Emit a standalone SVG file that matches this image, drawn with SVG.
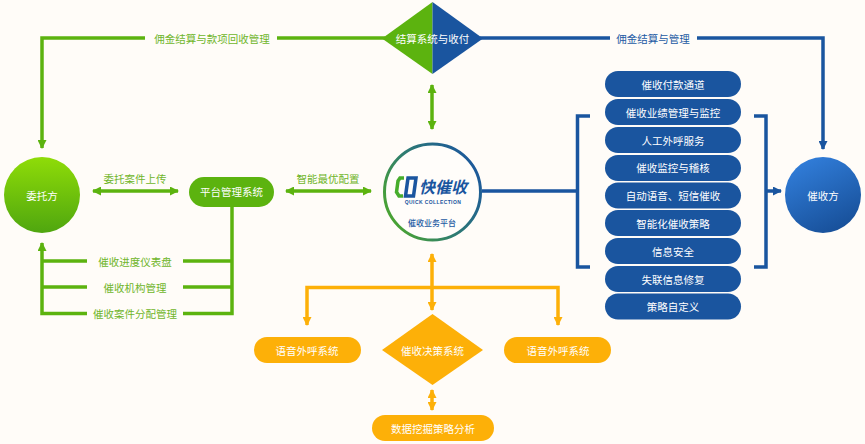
<svg xmlns="http://www.w3.org/2000/svg" width="865" height="444" viewBox="0 0 865 444">
<style>
text{font-family:"Noto Sans CJK SC","Liberation Sans",sans-serif;font-size:10.500px;text-anchor:middle;dominant-baseline:central}
.w{fill:#fff;font-weight:400}
.gl{fill:#6fb52a}
.bl{fill:#1d5aa3}
.g,.b,.o{fill:none;stroke-width:3.500}
.g{stroke:#5cb30f}.b{stroke:#1a559f}.o{stroke:#fdb008}
.gf{fill:#5cb30f}.bf{fill:#1a559f}.of{fill:#fdb008}
</style>
<defs>
<linearGradient id="lg" x1="0" y1="0" x2="0" y2="1"><stop offset="0" stop-color="#8fdc08"/><stop offset="1" stop-color="#4fa60f"/></linearGradient>
<linearGradient id="rg" x1="0.2" y1="0" x2="0.7" y2="1"><stop offset="0" stop-color="#327fdc"/><stop offset="1" stop-color="#174f98"/></linearGradient>
<linearGradient id="cg" x1="0" y1="0.8" x2="1" y2="0.2"><stop offset="0" stop-color="#4da82a"/><stop offset="0.45" stop-color="#2f7d70"/><stop offset="1" stop-color="#1a559f"/></linearGradient>
<marker id="ag" viewBox="0 0 9 9" refX="8" refY="4.500" markerWidth="9" markerHeight="9" markerUnits="userSpaceOnUse" orient="auto-start-reverse"><path d="M0 0L9 4.500L0 9Z" fill="#5cb30f"/></marker>
<marker id="ab" viewBox="0 0 9 9" refX="8" refY="4.500" markerWidth="9" markerHeight="9" markerUnits="userSpaceOnUse" orient="auto-start-reverse"><path d="M0 0L9 4.500L0 9Z" fill="#1a559f"/></marker>
<marker id="ao" viewBox="0 0 9 9" refX="8" refY="4.500" markerWidth="9" markerHeight="9" markerUnits="userSpaceOnUse" orient="auto-start-reverse"><path d="M0 0L9 4.500L0 9Z" fill="#fdb008"/></marker>
</defs>
<rect width="865" height="444" fill="#fffcf8"/>
<g id="connectors">
<path class="g" d="M145 38H42V148" marker-end="url(#ag)"/>
<path class="g" d="M277 38H385"/>
<path class="b" d="M480 38H610"/>
<path class="b" d="M697 38H823V149" marker-end="url(#ab)"/>
<path class="g" d="M93 191H178" marker-start="url(#ag)" marker-end="url(#ag)"/>
<path class="g" d="M286 191H371" marker-start="url(#ag)" marker-end="url(#ag)"/>
<path class="g" d="M432 85V129" marker-start="url(#ag)" marker-end="url(#ag)"/>
<path class="g" d="M232 207V313.500H183M232 287H183M232 261H183"/>
<path class="g" d="M87 313.500H42V243" marker-end="url(#ag)"/>
<path class="g" d="M87 287H42M87 261H42"/>
<path class="b" d="M482 191H577"/>
<path class="b" d="M590 116H577.500V267H590"/>
<path class="b" d="M754 116H766V267H754"/>
<path class="b" d="M766 191H781" marker-end="url(#ab)"/>
<path class="o" d="M432 254V310" marker-start="url(#ao)" marker-end="url(#ao)"/>
<path class="o" d="M307 325V287.500H558V325" marker-end="url(#ao)" marker-start="url(#ao)"/>
<path class="o" d="M432 390V410" marker-start="url(#ao)" marker-end="url(#ao)"/>
</g>
<g id="labels">
<text class="gl" x="212" y="38">佣金结算与款项回收管理</text>
<text class="bl" x="653" y="38">佣金结算与管理</text>
<text class="gl" x="135" y="178">委托案件上传</text>
<text class="gl" x="328" y="178">智能最优配置</text>
<text class="gl" x="135" y="261">催收进度仪表盘</text>
<text class="gl" x="135" y="287">催收机构管理</text>
<text class="gl" x="135" y="313.500">催收案件分配管理</text>
</g>
<g id="client"><circle cx="42" cy="195" r="38" fill="url(#lg)"/><text class="w" x="42" y="195">委托方</text></g>
<g id="collector"><circle cx="823" cy="195" r="38" fill="url(#rg)"/><text class="w" x="823" y="195">催收方</text></g>
<g id="settlement"><path class="gf" d="M432.500 2L382 38.500L432.500 74Z"/><path class="bf" d="M432.500 2L483 38.500L432.500 74Z"/><text class="w" x="432.500" y="38.500">结算系统与收付</text></g>
<g id="platform"><rect class="gf" x="189" y="177" width="85" height="30" rx="15"/><text class="w" x="231.500" y="191">平台管理系统</text></g>
<g id="core">
<circle cx="432.500" cy="192" r="48" fill="#fffdfa" stroke="url(#cg)" stroke-width="3"/>
<path d="M404 178H400L398 181L396.500 192L399 196H403" fill="none" stroke="#47ad2c" stroke-width="3.500"/>
<path d="M408 178H416L413.500 196H405.500Z" fill="none" stroke="#1a559f" stroke-width="3.500"/>
<text x="443" y="186" fill="#1a559f" style="font-size:16px;font-weight:700;font-style:italic">快催收</text>
<text x="433" y="202" fill="#1a559f" style="font-size:5px;font-weight:700;font-family:'Liberation Sans',sans-serif;letter-spacing:.4px">QUICK COLLECTION</text>
<text x="432" y="222" fill="#1d5aa3" style="font-size:8px;font-weight:500">催收业务平台</text>
</g>
<g id="s1"><rect class="bf" x="605" y="71" width="136" height="26" rx="13"/><text class="w" x="673" y="84.500">催收付款通道</text></g>
<g id="s2"><rect class="bf" x="605" y="99" width="136" height="26" rx="13"/><text class="w" x="673" y="112">催收业绩管理与监控</text></g>
<g id="s3"><rect class="bf" x="605" y="127" width="136" height="26" rx="13"/><text class="w" x="673" y="140">人工外呼服务</text></g>
<g id="s4"><rect class="bf" x="605" y="155" width="136" height="26" rx="13"/><text class="w" x="673" y="167.500">催收监控与稽核</text></g>
<g id="s5"><rect class="bf" x="605" y="182.500" width="136" height="26" rx="13"/><text class="w" x="673" y="195.500">自动语音、短信催收</text></g>
<g id="s6"><rect class="bf" x="605" y="210" width="136" height="26" rx="13"/><text class="w" x="673" y="223">智能化催收策略</text></g>
<g id="s7"><rect class="bf" x="605" y="238" width="136" height="26" rx="13"/><text class="w" x="673" y="251">信息安全</text></g>
<g id="s8"><rect class="bf" x="605" y="266" width="136" height="26" rx="13"/><text class="w" x="673" y="279">失联信息修复</text></g>
<g id="s9"><rect class="bf" x="605" y="293.500" width="136" height="26" rx="13"/><text class="w" x="673" y="306.500">策略自定义</text></g>
<g id="voice1"><rect class="of" x="254" y="337" width="107" height="26" rx="13"/><text class="w" x="307" y="350">语音外呼系统</text></g>
<g id="decision"><path class="of" d="M432.500 314L483 350L432.500 385L382 350Z"/><text class="w" x="432.500" y="350">催收决策系统</text></g>
<g id="voice2"><rect class="of" x="504" y="337" width="107" height="26" rx="13"/><text class="w" x="558" y="350">语音外呼系统</text></g>
<g id="mining"><rect class="of" x="372" y="415" width="122" height="26" rx="13"/><text class="w" x="433" y="428">数据挖掘策略分析</text></g>
</svg>
